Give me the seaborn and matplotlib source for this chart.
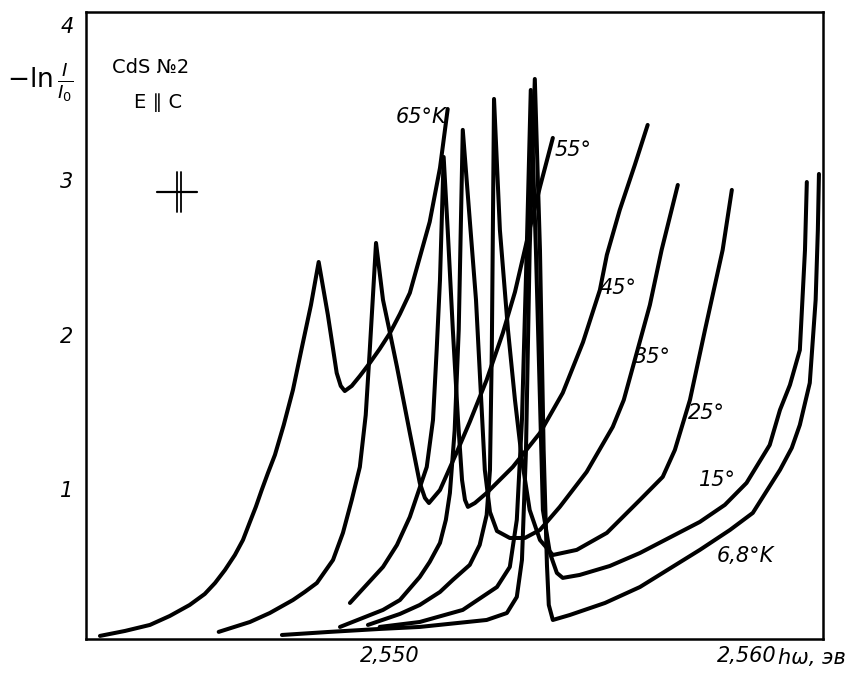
import numpy as np
import pandas as pd
import matplotlib
matplotlib.use("Agg")
import matplotlib.pyplot as plt
import seaborn as sns
from matplotlib.transforms import ScaledTranslation, blended_transform_factory

# ---------------- data (photon energy, eV ; -ln I/I0) ----------------
E_65 = [2.54240, 2.54308, 2.54376, 2.54430, 2.54484, 2.54525, 2.54553, 2.54580, 2.54607,
        2.54629, 2.54648, 2.54664, 2.54680, 2.54697, 2.54716, 2.54740,
        2.54765, 2.54789, 2.54814, 2.54835, 2.54860, 2.54884, 2.54895, 2.54906, 2.54925,
        2.54947, 2.54974, 2.55001, 2.55029, 2.55056, 2.55083, 2.55137, 2.55165, 2.55186]
A_65 = [0.052, 0.084, 0.123, 0.181, 0.252, 0.323, 0.394, 0.478, 0.575,
        0.672, 0.789, 0.886, 0.995, 1.105, 1.222, 1.416,
        1.642, 1.913, 2.191, 2.469, 2.127, 1.752, 1.668, 1.635, 1.668,
        1.732, 1.816, 1.907, 2.010, 2.133, 2.269, 2.728, 3.077, 3.458]

E_55 = [2.54563, 2.54648, 2.54702, 2.54765, 2.54797, 2.54830, 2.54874, 2.54901, 2.54925,
        2.54947, 2.54963, 2.54974, 2.54982, 2.54991, 2.55010, 2.55029, 2.55048, 2.55083,
        2.55110, 2.55124, 2.55135, 2.55165, 2.55211, 2.55246, 2.55292, 2.55336, 2.55369,
        2.55409, 2.55437, 2.55472]
A_55 = [0.078, 0.142, 0.200, 0.284, 0.336, 0.394, 0.543, 0.718, 0.931,
        1.144, 1.480, 1.900, 2.224, 2.592, 2.224, 2.010, 1.791, 1.364,
        1.041, 0.944, 0.911, 0.995, 1.241, 1.435, 1.707, 2.010, 2.275,
        2.683, 2.954, 3.271]

E_45 = [2.54920, 2.55010, 2.55048, 2.55083, 2.55129, 2.55146, 2.55156, 2.55165, 2.55175,
        2.55186, 2.55200, 2.55214, 2.55225, 2.55233, 2.55241, 2.55260, 2.55292, 2.55363,
        2.55437, 2.55499, 2.55554, 2.55600, 2.55619, 2.55654, 2.55695, 2.55730]
A_45 = [0.265, 0.498, 0.640, 0.821, 1.144, 1.448, 1.900, 2.353, 3.148,
        2.676, 2.030, 1.448, 1.060, 0.931, 0.886, 0.911, 0.976, 1.144,
        1.364, 1.623, 1.950, 2.288, 2.515, 2.805, 3.096, 3.355]

E_35 = [2.54893, 2.55010, 2.55056, 2.55110, 2.55137, 2.55165, 2.55181, 2.55192, 2.55205,
        2.55216, 2.55227, 2.55246, 2.55263, 2.55279, 2.55287, 2.55301, 2.55320, 2.55355,
        2.55396, 2.55437, 2.55491, 2.55564, 2.55635, 2.55665, 2.55695, 2.55736, 2.55768,
        2.55812]
A_35 = [0.110, 0.220, 0.284, 0.433, 0.530, 0.653, 0.802, 0.976, 1.383,
        2.030, 3.323, 2.741, 2.224, 1.493, 1.125, 0.853, 0.730, 0.685,
        0.685, 0.737, 0.886, 1.112, 1.403, 1.577, 1.836, 2.191, 2.547,
        2.967]

E_25 = [2.54969, 2.55056, 2.55110, 2.55165, 2.55200, 2.55246, 2.55273, 2.55292, 2.55301,
        2.55306, 2.55312, 2.55328, 2.55350, 2.55369, 2.55388, 2.55409, 2.55437, 2.55472,
        2.55537, 2.55619, 2.55709, 2.55771, 2.55804, 2.55845, 2.55886, 2.55934, 2.55959]
A_25 = [0.123, 0.194, 0.252, 0.336, 0.414, 0.511, 0.640, 0.834, 1.125,
        1.900, 3.523, 2.676, 2.030, 1.577, 1.189, 0.866, 0.672, 0.575,
        0.608, 0.718, 0.931, 1.080, 1.254, 1.577, 2.030, 2.547, 2.935]

E_15 = [2.55001, 2.55110, 2.55227, 2.55320, 2.55355, 2.55374, 2.55388, 2.55401, 2.55412,
        2.55426, 2.55437, 2.55445, 2.55464, 2.55483, 2.55499, 2.55545, 2.55627, 2.55709,
        2.55872, 2.55940, 2.55999, 2.56062, 2.56090, 2.56117, 2.56144, 2.56158, 2.56163]
A_15 = [0.110, 0.142, 0.220, 0.368, 0.498, 0.802, 1.448, 2.547, 3.581,
        2.547, 1.577, 0.866, 0.588, 0.459, 0.427, 0.446, 0.504, 0.588,
        0.789, 0.899, 1.041, 1.286, 1.513, 1.674, 1.900, 2.547, 2.986]

E_7 = [2.54735, 2.54865, 2.55001, 2.55110, 2.55292, 2.55347, 2.55374, 2.55388, 2.55399,
       2.55409, 2.55423, 2.55437, 2.55447, 2.55456, 2.55461, 2.55472, 2.55518, 2.55614,
       2.55709, 2.55872, 2.55954, 2.56016, 2.56090, 2.56122, 2.56144, 2.56171, 2.56187,
       2.56193, 2.56196]
A_7 = [0.058, 0.078, 0.097, 0.110, 0.155, 0.200, 0.304, 0.543, 1.254,
       2.547, 3.652, 2.547, 1.254, 0.511, 0.252, 0.155, 0.187, 0.265,
       0.368, 0.608, 0.737, 0.847, 1.125, 1.267, 1.416, 1.687, 2.224,
       2.676, 3.038]

curves = {"65": (E_65, A_65), "55": (E_55, A_55), "45": (E_45, A_45),
          "35": (E_35, A_35), "25": (E_25, A_25), "15": (E_15, A_15),
          "6.8": (E_7, A_7)}

curve_labels = ["65°K", "55°", "45°", "35°", "25°", "15°", "6,8°K"]
label_E = [2.55113, 2.55526, 2.55649, 2.55744, 2.55891, 2.55921, 2.55997]
label_A = [3.407, 3.193, 2.301, 1.855, 1.493, 1.060, 0.569]

x_ticks = [2.545, 2.550, 2.555, 2.560]
x_ticklabels = ["", "2,550", "", "2,560"]
y_ticks = [1, 2, 3, 4]
y_ticklabels = ["1", "2", "3", "4"]

rows = []
for name, (E, A) in curves.items():
    for e, a in zip(E, A):
        rows.append({"T": name, "E": e, "A": a})
df = pd.DataFrame(rows)

# ---------------- plotting ----------------
sns.set_theme(style="white")
plt.rcParams["font.family"] = ["DejaVu Sans"]
plt.rcParams["mathtext.fontset"] = "dejavusans"
plt.rcParams["text.color"] = "black"

fig = plt.figure(figsize=(8.49, 6.74), dpi=100)
ax = fig.add_axes([86/849, 35/674, 737/849, 627/674])

for name in curves:
    sub = df[df["T"] == name]
    sns.lineplot(data=sub, x="E", y="A", ax=ax, color="black", lw=2.9,
                 sort=False, estimator=None, legend=False,
                 solid_capstyle="round", solid_joinstyle="round")

ax.set_xlim(2.54202, 2.56207)
ax.set_ylim(0.032, 4.085)
ax.set_xlabel("")
ax.set_ylabel("")

ax.set_xticks(x_ticks)
ax.set_xticklabels(x_ticklabels)
ax.set_yticks(y_ticks)
ax.set_yticklabels(y_ticklabels)
for lbl in ax.get_xticklabels() + ax.get_yticklabels():
    lbl.set_fontstyle("italic")
    lbl.set_fontsize(15)
    lbl.set_color("black")
ax.tick_params(axis="x", direction="in", length=10, width=1.3, pad=5, colors="black")
ax.tick_params(axis="y", direction="in", length=9, width=1.3, pad=9, colors="black")
lbl = ax.get_xticklabels()[1]
lbl.set_transform(lbl.get_transform() + ScaledTranslation(10/100, 0, fig.dpi_scale_trans))

for s in ax.spines.values():
    s.set_visible(True)
    s.set_color("black")
    s.set_linewidth(1.8)

# axis labels
btr = blended_transform_factory(ax.transData, ax.transAxes)
ax.text(2.56084, -0.030, "hω, эв", transform=btr, ha="left", va="center",
        fontsize=15, fontstyle="italic", color="black")
fig.text(40/849, 1 - 82/674, r"$-\mathrm{ln}\,\frac{I}{I_0}$", ha="center", va="center",
         fontsize=19, color="black")

# sample annotation
ax.text(0.088, 0.911, "CdS №2", transform=ax.transAxes, ha="center", va="center",
        fontsize=14, color="black")
ax.text(0.098, 0.855, "E ∥ C", transform=ax.transAxes, ha="center", va="center",
        fontsize=14, color="black")

# resolution marker
ax.plot([0.0963, 0.1506], [0.7129, 0.7129], transform=ax.transAxes, color="black", lw=1.6)
ax.plot([0.1239, 0.1239], [0.681, 0.7448], transform=ax.transAxes, color="black", lw=1.3)
ax.plot([0.1285, 0.1285], [0.681, 0.7448], transform=ax.transAxes, color="black", lw=1.3)

# curve labels
for t, e, a in zip(curve_labels, label_E, label_A):
    ax.text(e, a, t, ha="center", va="center", fontsize=15, fontstyle="italic",
            color="black")

fig.savefig("out.png", dpi=100)
